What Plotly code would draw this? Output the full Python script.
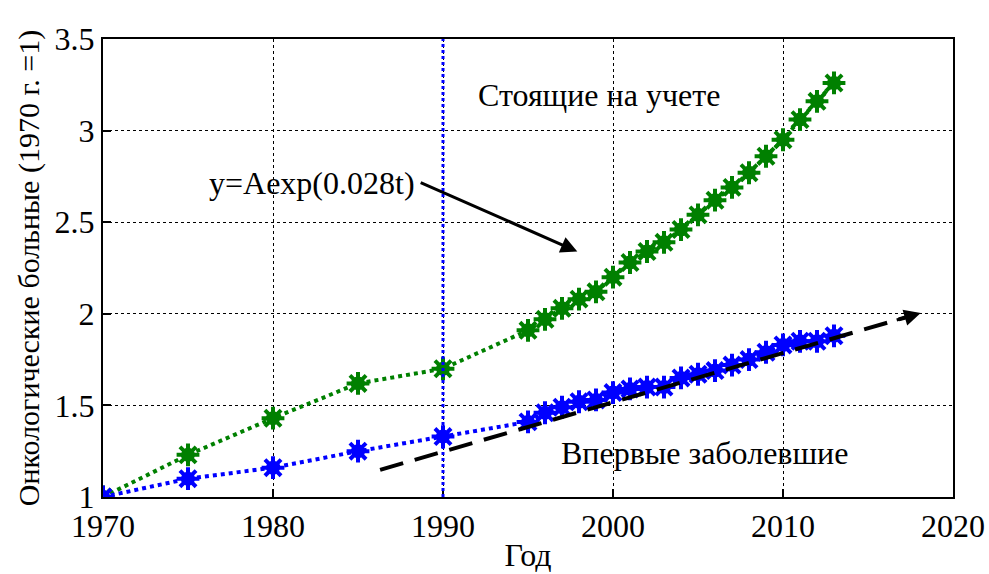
import plotly.graph_objects as go

years_reg = [1970, 1975, 1980, 1985, 1990, 1995, 1996, 1997, 1998, 1999, 2000, 2001, 2002,
             2003, 2004, 2005, 2006, 2007, 2008, 2009, 2010, 2011, 2012, 2013]
registered = [1.00, 1.23, 1.43, 1.62, 1.70, 1.91, 1.97, 2.03, 2.08, 2.12, 2.20, 2.28, 2.34,
              2.39, 2.46, 2.54, 2.62, 2.69, 2.77, 2.86, 2.95, 3.06, 3.16, 3.26]
years_new = years_reg
new_cases = [1.00, 1.10, 1.16, 1.25, 1.33, 1.41, 1.46, 1.49, 1.52, 1.53, 1.57, 1.59, 1.60,
             1.60, 1.65, 1.67, 1.69, 1.72, 1.75, 1.79, 1.83, 1.85, 1.85, 1.88]

trend_x = [1986.3, 2017.2]
trend_y = [1.148, 1.98]
trend_tip = (2018.1, 2.005)
fit_arrow_from = (1988.6, 2.72)
fit_arrow_to = (1997.9, 2.34)

x_ticks = [1970, 1980, 1990, 2000, 2010, 2020]
y_ticks = [1, 1.5, 2, 2.5, 3, 3.5]

FONT = "Liberation Serif, DejaVu Serif, serif"
GREEN = "#008000"
BLUE = "#0000FF"

fig = go.Figure()
fig.add_shape(type="line", x0=1990, x1=1990, y0=0, y1=1, xref="x", yref="paper",
              line=dict(color=BLUE, width=3, dash="dot"), layer="above")


def add_series(xs, ys, color):
    fig.add_trace(go.Scatter(x=xs, y=ys, mode="lines",
                             line=dict(color=color, width=4, dash="dot")))
    fig.add_trace(go.Scatter(x=xs, y=ys, mode="markers",
                             marker=dict(symbol="circle", size=14, color=color,
                                         line=dict(width=0))))
    fig.add_trace(go.Scatter(x=xs, y=ys, mode="markers",
                             marker=dict(symbol="asterisk-open", size=19, color=color,
                                         line=dict(color=color, width=4))))


add_series(years_reg, registered, GREEN)
add_series(years_new, new_cases, BLUE)
fig.add_trace(go.Scatter(x=trend_x, y=trend_y, mode="lines",
                         line=dict(color="black", width=4, dash="24px,12px")))

fig.add_annotation(x=trend_tip[0], y=trend_tip[1], ax=trend_x[1] - 0.6, ay=trend_y[1] - 0.016,
                   xref="x", yref="y", axref="x", ayref="y", text="", showarrow=True,
                   arrowhead=2, arrowsize=1.1, arrowwidth=3, arrowcolor="black")
fig.add_annotation(x=fit_arrow_to[0], y=fit_arrow_to[1], ax=fit_arrow_from[0], ay=fit_arrow_from[1],
                   xref="x", yref="y", axref="x", ayref="y", text="", showarrow=True,
                   arrowhead=2, arrowsize=1.1, arrowwidth=3, arrowcolor="black")

txt = dict(family=FONT, size=32, color="black")
fig.add_annotation(x=1982.3, y=2.716, text="y=Aexp(0.028t)", showarrow=False, font=txt)
fig.add_annotation(x=1999.2, y=3.197, text="Стоящие на учете", showarrow=False, font=txt)
fig.add_annotation(x=2005.4, y=1.24, text="Впервые заболевшие", showarrow=False, font=txt)

axis_common = dict(showline=True, linecolor="black", linewidth=2, mirror=True,
                   ticks="inside", ticklen=8, tickcolor="black", tickwidth=1.5,
                   showgrid=True, gridcolor="black", griddash="dot", gridwidth=1,
                   zeroline=False, automargin=False,
                   tickfont=dict(family=FONT, size=32, color="black"))
fig.update_xaxes(range=[1970, 2020], tickvals=x_ticks, **axis_common,
                 title=dict(text="Год", font=dict(family=FONT, size=32, color="black"), standoff=0))
fig.update_yaxes(range=[1, 3.5], tickvals=y_ticks, ticktext=["1", "1.5", "2", "2.5", "3", "3.5"],
                 **axis_common,
                 title=dict(text="Онкологические больные (1970 г. =1)",
                            font=dict(family=FONT, size=30, color="black"), standoff=6))
fig.update_layout(width=989, height=574, margin=dict(l=103, r=36, t=39, b=77),
                  plot_bgcolor="white", paper_bgcolor="white", showlegend=False)
fig.write_html("out.html")
